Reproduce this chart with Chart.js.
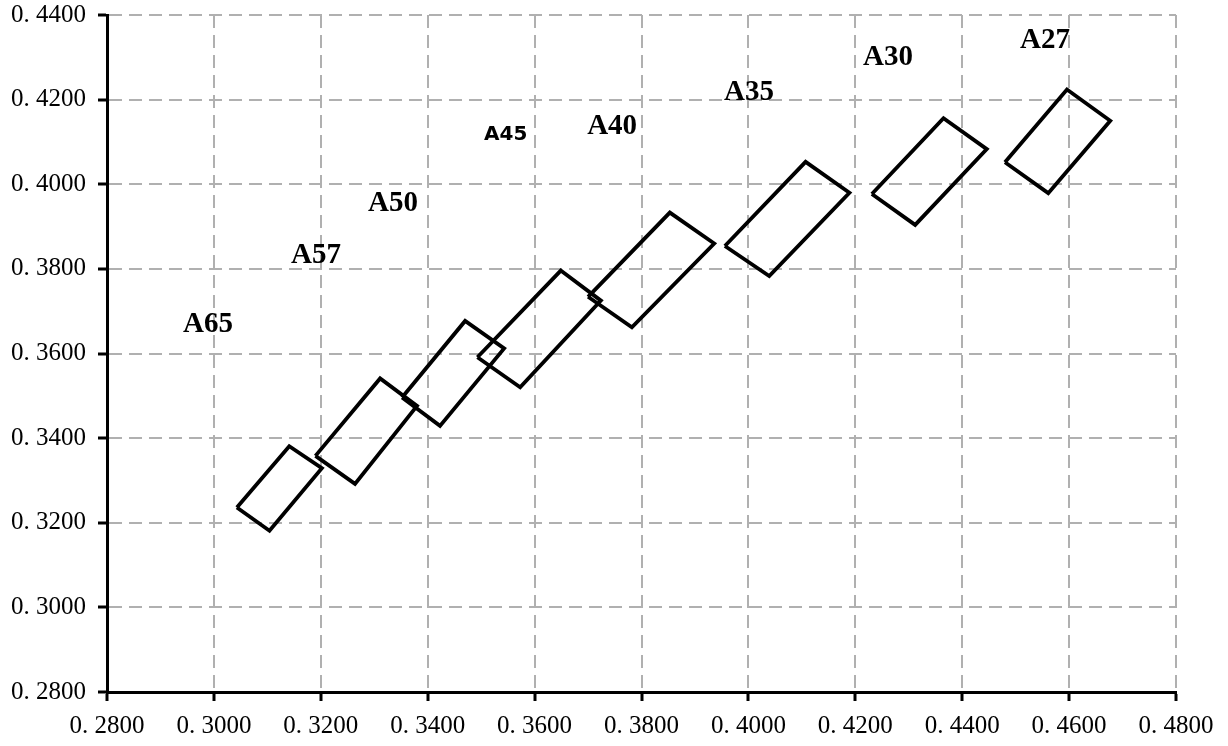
<!DOCTYPE html>
<html>
<head>
<meta charset="utf-8">
<script src="https://cdn.jsdelivr.net/npm/chart.js@4/dist/chart.umd.min.js"></script>
<style>
  html, body { margin: 0; padding: 0; background: #fff; }
  #wrap { width: 1228px; height: 746px; }
</style>
</head>
<body>
<div id="wrap"><canvas id="cc" width="1228" height="746"></canvas></div>
<script>
// axis ticks
let xTicks = ['0. 2800','0. 3000','0. 3200','0. 3400','0. 3600','0. 3800','0. 4000','0. 4200','0. 4400','0. 4600','0. 4800']
let yTicks = ['0. 2800','0. 3000','0. 3200','0. 3400','0. 3600','0. 3800','0. 4000','0. 4200','0. 4400']

// bin corners (left, top, right, bottom)
let binNames = ['A65','A57','A50','A45','A40','A35','A30','A27']
let a65 = [[0.3043,0.3236],[0.3141,0.3381],[0.3202,0.3329],[0.3104,0.3181]]
let a57 = [[0.3190,0.3358],[0.3311,0.3541],[0.3380,0.3476],[0.3264,0.3292]]
let a50 = [[0.3352,0.3496],[0.3470,0.3677],[0.3543,0.3612],[0.3423,0.3429]]
let a45 = [[0.3493,0.3591],[0.3649,0.3796],[0.3724,0.3725],[0.3573,0.3520]]
let a40 = [[0.3700,0.3734],[0.3853,0.3933],[0.3936,0.3860],[0.3782,0.3662]]
let a35 = [[0.3956,0.3854],[0.4107,0.4053],[0.4189,0.3980],[0.4039,0.3783]]
let a30 = [[0.4231,0.3977],[0.4365,0.4156],[0.4446,0.4083],[0.4312,0.3904]]
let a27 = [[0.4480,0.4052],[0.4596,0.4224],[0.4677,0.4150],[0.4561,0.3979]]

// where the bin names sit
let labelX = [0.2989,0.3191,0.3335,0.3546,0.3745,0.4001,0.4261,0.4555]
let labelY = [0.3672,0.3833,0.3956,0.4119,0.4138,0.4220,0.4301,0.4341]

let bins = [a65,a57,a50,a45,a40,a35,a30,a27]
let datasets = []
for (let i = 0; i < bins.length; i++) {
  let pts = bins[i].map(p => ({x: p[0], y: p[1]}))
  pts.push(pts[0])//close the box
  datasets.push({
    label: binNames[i],
    data: pts,
    showLine: true,
    borderColor: '#000',
    borderWidth: 3.8,
    pointRadius: 0,
    fill: false,
    tension: 0
  })
}

const binLabels = {
  id: 'binLabels',
  afterDatasetsDraw(chart) {
    let ctx = chart.ctx
    let xs = chart.scales.x, ys = chart.scales.y
    ctx.save()
    ctx.fillStyle = '#000'
    ctx.textAlign = 'center'
    ctx.textBaseline = 'middle'
    for (let i = 0; i < binNames.length; i++) {
      if (binNames[i] == 'A45') {
        ctx.font = 'bold 20px "DejaVu Sans"'
      } else {
        ctx.font = 'bold 29px "Liberation Serif"'
      }
      ctx.fillText(binNames[i], xs.getPixelForValue(labelX[i]), ys.getPixelForValue(labelY[i]) + 1)
    }
    ctx.restore()
  }
}

const gridStyle = {
  color: '#b0b0b0',
  lineWidth: 2,
  drawTicks: true,
  tickLength: 9,
  tickColor: '#000',
  tickWidth: 3
}
const tickFont = { family: '"Liberation Serif", serif', size: 25 }

new Chart(document.getElementById('cc'), {
  type: 'scatter',
  data: { datasets: datasets },
  options: {
    responsive: false,
    animation: false,
    layout: { padding: { top: 15, right: 52, left: 0, bottom: 0 } },
    plugins: { legend: { display: false }, tooltip: { enabled: false } },
    scales: {
      x: {
        type: 'linear',
        min: 0.28, max: 0.48,
        grid: gridStyle,
        border: { display: true, color: '#000', width: 3, dash: [13, 7] },
        ticks: {
          stepSize: 0.02,
          color: '#000',
          font: tickFont,
          padding: 10,
          maxRotation: 0,
          autoSkip: false,
          callback: (v, i) => xTicks[i]
        },
        afterFit: (s) => { s.height = 54; s.paddingLeft = 0; s.paddingRight = 0 }
      },
      y: {
        type: 'linear',
        min: 0.28, max: 0.44,
        grid: gridStyle,
        border: { display: true, color: '#000', width: 3, dash: [13, 7] },
        ticks: {
          stepSize: 0.02,
          color: '#000',
          font: tickFont,
          padding: 12,
          autoSkip: false,
          callback: (v, i) => yTicks[i]
        },
        afterFit: (s) => { s.width = 107; s.paddingTop = 0; s.paddingBottom = 0 }
      }
    }
  },
  plugins: [binLabels]
});
</script>
</body>
</html>
